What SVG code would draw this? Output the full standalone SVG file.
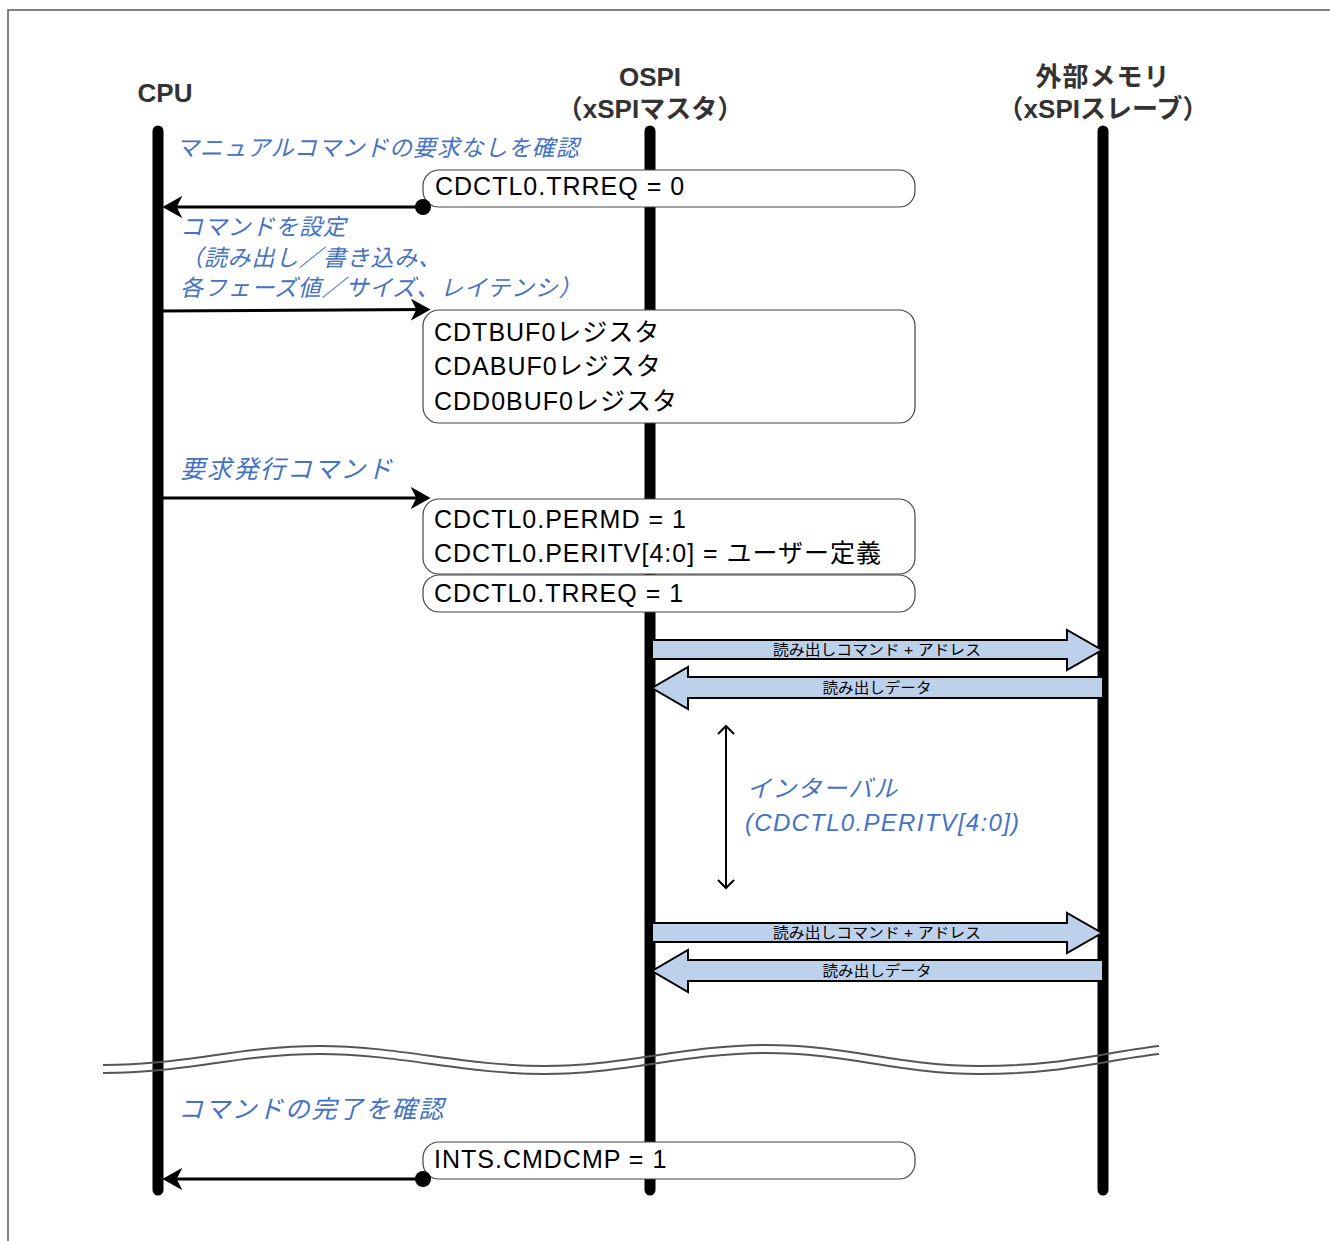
<svg xmlns="http://www.w3.org/2000/svg" width="1330" height="1241" viewBox="0 0 1330 1241">
<style>
.frame{fill:none;stroke:#595959;stroke-width:1.5}
.life{stroke:#000;stroke-width:11;stroke-linecap:round;fill:none}
.hdr{font-family:"Liberation Sans","Noto Sans CJK JP",sans-serif;font-weight:bold;font-size:26px;fill:#333;text-anchor:middle}
.box{fill:#fff;stroke:#444;stroke-width:1.2}
.bt{font-family:"Liberation Sans","Noto Sans CJK JP",sans-serif;font-size:25px;fill:#000;letter-spacing:1px}
.note{font-family:"Liberation Sans","Noto Sans CJK JP",sans-serif;font-size:23px;font-style:italic;fill:#4472C4;letter-spacing:0.8px}
.note2{font-family:"Liberation Sans","Noto Sans CJK JP",sans-serif;font-size:25px;font-style:italic;fill:#4472C4;letter-spacing:1.7px}
.note3{font-family:"Liberation Sans","Noto Sans CJK JP",sans-serif;font-size:24px;font-style:italic;fill:#4472C4;letter-spacing:1.3px}
.msg{stroke:#000;stroke-width:3;fill:none}
.dot{fill:#000}
.blk{fill:#BDD1EA;stroke:#000;stroke-width:2;stroke-linejoin:miter}
.bl{font-family:"Liberation Sans","Noto Sans CJK JP",sans-serif;font-size:14.5px;fill:#000;text-anchor:middle}
.wave{fill:none;stroke:#555;stroke-width:2}
.dbl{stroke:#000;stroke-width:2;fill:none}
</style>
<defs>
<marker id="ah" markerUnits="userSpaceOnUse" markerWidth="20" markerHeight="22" viewBox="0 0 18 20" refX="12" refY="10" orient="auto">
<path d="M0,0 L18,10 L0,20 L5,10 Z" fill="#000"/>
</marker>
<marker id="oa" markerUnits="userSpaceOnUse" markerWidth="20" markerHeight="20" viewBox="0 0 20 20" refX="10" refY="10" orient="auto-start-reverse">
<path d="M2,2 L10,10 L2,18" fill="none" stroke="#000" stroke-width="2"/>
</marker>
</defs>
<rect width="1330" height="1241" fill="#fff"/>
<path class="frame" d="M8,1241 L8,10 L1330,10"/>

<g id="cpu">
<line class="life" x1="158" y1="131" x2="158" y2="1190"/>
<text class="hdr" x="165" y="102">CPU</text>
</g>
<g id="ospi">
<line class="life" x1="650" y1="131" x2="650" y2="1190"/>
<text class="hdr" x="650" y="86">OSPI</text>
<text class="hdr" x="650" y="118">（xSPIマスタ）</text>
</g>
<g id="memory">
<line class="life" x1="1103" y1="131" x2="1103" y2="1190"/>
<text class="hdr" x="1103" y="86" style="letter-spacing:1px">外部メモリ</text>
<text class="hdr" x="1103" y="118">（xSPIスレーブ）</text>
</g>

<g id="notes">
<text class="note" x="176" y="156">マニュアルコマンドの要求なしを確認</text>
<text class="note" x="180" y="235">コマンドを設定</text>
<text class="note" x="180" y="266">（読み出し／書き込み、</text>
<text class="note" x="180" y="296">各フェーズ値／サイズ、レイテンシ）</text>
<text class="note2" x="180" y="478">要求発行コマンド</text>
<text class="note3" x="747" y="797">インターバル</text>
<text class="note3" x="745" y="831">(CDCTL0.PERITV[4:0])</text>
<text class="note2" x="178" y="1118">コマンドの完了を確認</text>
</g>

<g id="box-trreq0">
<rect class="box" x="423" y="170" width="492" height="37" rx="16"/>
<text class="bt" x="435" y="195">CDCTL0.TRREQ = 0</text>
</g>
<g id="box-buf">
<rect class="box" x="423" y="310" width="492" height="113" rx="16"/>
<text class="bt" x="434" y="341">CDTBUF0レジスタ</text>
<text class="bt" x="434" y="375">CDABUF0レジスタ</text>
<text class="bt" x="434" y="410">CDD0BUF0レジスタ</text>
</g>
<g id="box-perm">
<rect class="box" x="423" y="499" width="492" height="75" rx="16"/>
<text class="bt" x="434" y="528">CDCTL0.PERMD = 1</text>
<text class="bt" x="434" y="562">CDCTL0.PERITV[4:0] = ユーザー定義</text>
</g>
<g id="box-trreq1">
<rect class="box" x="423" y="575" width="492" height="37" rx="16"/>
<text class="bt" x="434" y="602">CDCTL0.TRREQ = 1</text>
</g>
<g id="box-cmdcmp">
<rect class="box" x="423" y="1142" width="492" height="37" rx="16"/>
<text class="bt" x="434" y="1168">INTS.CMDCMP = 1</text>
</g>

<g id="connectors">
<line class="msg" x1="423" y1="207" x2="169" y2="207" marker-end="url(#ah)"/>
<circle class="dot" cx="423" cy="207" r="8"/>
<line class="msg" x1="158" y1="311" x2="424" y2="309.5" marker-end="url(#ah)"/>
<circle class="dot" cx="158" cy="311" r="5"/>
<line class="msg" x1="158" y1="498" x2="424" y2="498" marker-end="url(#ah)"/>
<circle class="dot" cx="158" cy="498" r="5"/>
<line class="msg" x1="423" y1="1179" x2="169" y2="1179" marker-end="url(#ah)"/>
<circle class="dot" cx="423" cy="1179" r="8"/>

<path class="blk" d="M652,640 L1067,640 L1067,630 L1102,650 L1067,670 L1067,659 L652,659 Z"/>
<text class="bl" x="877" y="655" textLength="208" lengthAdjust="spacingAndGlyphs">読み出しコマンド + アドレス</text>
<path class="blk" d="M1103,677 L688,677 L688,667 L652,688 L688,709 L688,698 L1103,698 Z"/>
<text class="bl" x="877" y="693" textLength="109" lengthAdjust="spacingAndGlyphs">読み出しデータ</text>

<path class="blk" d="M652,923 L1067,923 L1067,913 L1102,933 L1067,953 L1067,942 L652,942 Z"/>
<text class="bl" x="877" y="938" textLength="208" lengthAdjust="spacingAndGlyphs">読み出しコマンド + アドレス</text>
<path class="blk" d="M1103,960 L688,960 L688,950 L652,971 L688,992 L688,981 L1103,981 Z"/>
<text class="bl" x="877" y="976" textLength="109" lengthAdjust="spacingAndGlyphs">読み出しデータ</text>

<line class="dbl" x1="726" y1="726" x2="726" y2="888" marker-start="url(#oa)" marker-end="url(#oa)"/>

<path class="wave" d="M103,1065 C186,1065 238,1046 319,1046 C400,1046 463,1066 544,1066 C625,1066 685,1045 766,1045 C847,1045 899,1066 980,1066 C1061,1066 1100,1053 1159,1046"/>
<path class="wave" d="M103,1073 C186,1073 238,1054 319,1054 C400,1054 463,1074 544,1074 C625,1074 685,1053 766,1053 C847,1053 899,1074 980,1074 C1061,1074 1100,1061 1159,1054"/>
</g>
</svg>
